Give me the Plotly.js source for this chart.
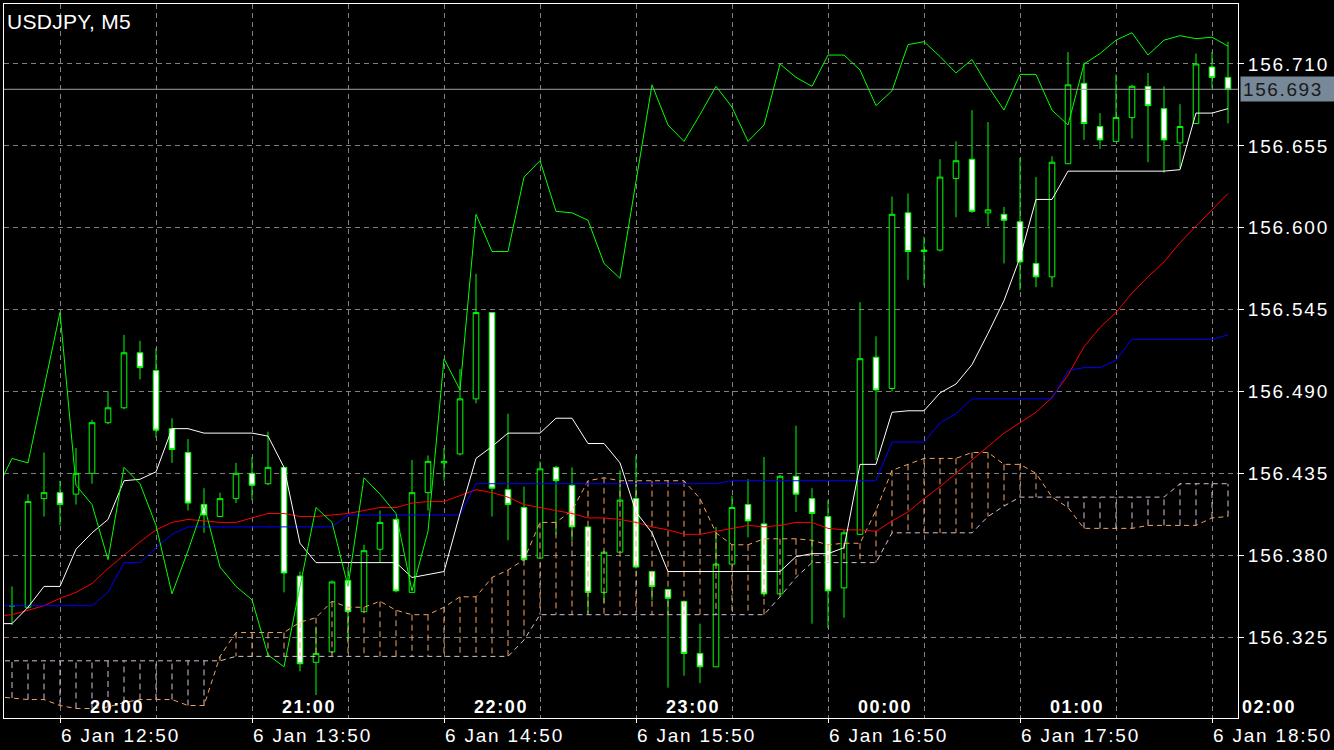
<!DOCTYPE html>
<html><head><meta charset="utf-8">
<script src="https://cdn.plot.ly/plotly-3.0.1.min.js"></script>
<style>
html,body{margin:0;padding:0;background:#000;}
#chart{width:1334px;height:750px;}
.xtick text,.ytick text{letter-spacing:1.8px;}
.annotation-text{letter-spacing:1.6px;}
.gtitle{letter-spacing:0.3px;}
</style></head><body><div id="chart"></div><script>
// ---- data (USDJPY M5, candle index 0 = 6 Jan 12:35) ----
const tickIdx  = [3, 15, 27, 39, 51, 63, 75];
const tickText = ['6 Jan 12:50','6 Jan 13:50','6 Jan 14:50','6 Jan 15:50','6 Jan 16:50','6 Jan 17:50','6 Jan 18:50'];
const halfHourIdx = [9, 21, 33, 45, 57, 69];
const hourIdx  = [5, 17, 29, 41, 53, 65, 77];
const hourText = ['20:00','21:00','22:00','23:00','00:00','01:00','02:00'];

const open = [
156.346,156.345,156.418,156.422,156.421,156.435,156.469,156.479,156.516,156.504,
156.465,156.449,156.414,156.406,156.418,156.435,156.428,156.439,156.366,156.308,
156.315,156.363,156.342,156.384,156.404,156.355,156.422,156.442,156.448,156.485,
156.543,156.424,156.412,156.378,156.439,156.427,156.399,156.355,156.382,156.418,
156.369,156.357,156.349,156.314,156.305,156.374,156.414,156.401,156.354,156.433,
156.418,156.406,156.358,156.394,156.513,156.492,156.610,156.584,156.585,156.633,
156.646,156.610,156.609,156.604,156.576,156.567,156.643,156.697,156.668,156.658,
156.674,156.695,156.680,156.657,156.670,156.708,156.701];
const high = [
156.359,156.421,156.449,156.430,156.452,156.471,156.490,156.528,156.524,156.519,
156.472,156.458,156.425,156.422,156.442,156.446,156.463,156.439,156.369,156.332,
156.363,156.372,156.387,156.410,156.405,156.444,156.447,156.452,156.505,156.569,
156.543,156.475,156.426,156.443,156.440,156.439,156.399,156.383,156.437,156.447,
156.369,156.357,156.349,156.334,156.399,156.420,156.431,156.446,156.434,156.467,
156.425,156.417,156.397,156.550,156.527,156.621,156.623,156.594,156.646,156.658,
156.679,156.671,156.614,156.647,156.634,156.648,156.718,156.711,156.677,156.703,
156.696,156.704,156.695,156.683,156.717,156.718,156.725];
const low = [
156.333,156.344,156.406,156.400,156.414,156.428,156.468,156.478,156.498,156.459,
156.442,156.410,156.395,156.406,156.415,156.417,156.427,156.355,156.302,156.286,
156.314,156.322,156.342,156.375,156.355,156.355,156.410,156.430,156.447,156.482,
156.406,156.390,156.376,156.378,156.394,156.390,156.341,156.348,156.382,156.371,
156.350,156.291,156.299,156.294,156.305,156.374,156.392,156.352,156.352,156.409,
156.334,156.331,156.338,156.394,156.444,156.490,156.565,156.561,156.584,156.607,
156.610,156.601,156.576,156.558,156.560,156.560,156.643,156.659,156.653,156.658,
156.660,156.644,156.637,156.640,156.670,156.694,156.670];
const close = [
156.346,156.416,156.422,156.414,156.435,156.469,156.479,156.516,156.506,156.464,
156.451,156.415,156.407,156.418,156.435,156.427,156.439,156.368,156.307,156.314,
156.362,156.342,156.383,156.402,156.356,156.422,156.443,156.443,156.485,156.543,
156.425,156.414,156.377,156.438,156.430,156.399,156.355,156.382,156.417,156.372,
156.359,156.351,156.314,156.305,156.374,156.412,156.403,156.354,156.433,156.421,
156.408,156.356,156.395,156.512,156.491,156.609,156.584,156.585,156.634,156.645,
156.611,156.612,156.605,156.577,156.567,156.644,156.696,156.670,156.659,156.674,
156.695,156.682,156.659,156.668,156.710,156.701,156.693];

// indicator lines: index -1 .. 76
const greenLine = [156.423,
156.445,156.442,156.492,156.543,156.427,156.414,156.377,156.439,156.428,156.400,
156.354,156.383,156.414,156.372,156.359,156.350,156.313,156.305,156.359,156.412,
156.402,156.359,156.432,156.421,156.408,156.356,156.396,156.512,156.491,156.609,
156.584,156.584,156.634,156.645,156.611,156.610,156.605,156.576,156.566,156.631,
156.696,156.669,156.658,156.676,156.695,156.681,156.658,156.669,156.710,156.701,
156.695,156.716,156.716,156.706,156.682,156.692,156.723,156.725,156.715,156.704,
156.713,156.695,156.679,156.703,156.703,156.679,156.669,156.710,156.717,156.726,
156.731,156.716,156.726,156.729,156.727,156.728,156.722];
const redLine = [156.339,
156.340,156.343,156.346,156.351,156.355,156.361,156.371,156.380,156.389,156.397,
156.402,156.404,156.403,156.402,156.402,156.405,156.408,156.408,156.406,156.406,
156.407,156.408,156.410,156.412,156.412,156.415,156.416,156.416,156.420,156.424,
156.422,156.419,156.414,156.412,156.410,156.408,156.405,156.405,156.404,156.402,
156.399,156.397,156.394,156.394,156.396,156.398,156.400,156.399,156.400,156.402,
156.402,156.398,156.397,156.397,156.396,156.403,156.409,156.418,156.426,156.435,
156.444,156.453,156.462,156.469,156.476,156.486,156.501,156.520,156.533,156.543,
156.556,156.567,156.577,156.590,156.601,156.612,156.623];
const blueLine = [156.346,
156.346,156.346,156.346,156.346,156.346,156.346,156.355,156.375,156.375,156.385,
156.394,156.399,156.399,156.399,156.399,156.399,156.399,156.399,156.399,156.399,
156.399,156.407,156.407,156.407,156.407,156.407,156.407,156.407,156.407,156.428,
156.428,156.428,156.428,156.428,156.428,156.428,156.428,156.428,156.428,156.428,
156.428,156.428,156.428,156.428,156.428,156.430,156.430,156.430,156.430,156.430,
156.430,156.430,156.430,156.430,156.430,156.456,156.456,156.456,156.469,156.475,
156.485,156.485,156.485,156.485,156.485,156.485,156.504,156.506,156.506,156.511,
156.525,156.525,156.525,156.525,156.525,156.525,156.528];
const whiteLine = [156.334,
156.334,156.345,156.359,156.359,156.384,156.395,156.404,156.430,156.431,156.436,
156.465,156.465,156.462,156.462,156.462,156.462,156.460,156.439,156.388,156.375,
156.375,156.375,156.375,156.375,156.375,156.365,156.367,156.369,156.408,156.445,
156.453,156.462,156.462,156.462,156.472,156.472,156.455,156.455,156.442,156.409,
156.395,156.369,156.369,156.369,156.369,156.369,156.369,156.369,156.369,156.379,
156.381,156.381,156.385,156.441,156.441,156.476,156.477,156.477,156.489,156.495,
156.508,156.529,156.551,156.580,156.619,156.619,156.638,156.638,156.638,156.638,
156.638,156.638,156.638,156.639,156.677,156.677,156.680];
const spanA = [156.285,
156.284,156.283,156.283,156.279,156.277,156.277,156.278,156.281,156.283,156.283,
156.283,156.279,156.279,156.312,156.328,156.328,156.328,156.328,156.335,156.338,
156.349,156.345,156.345,156.349,156.343,156.340,156.340,156.345,156.352,156.352,
156.365,156.370,156.377,156.402,156.402,156.410,156.430,156.432,156.430,156.430,
156.430,156.430,156.430,156.418,156.395,156.387,156.387,156.391,156.391,156.391,
156.390,156.387,156.388,156.388,156.410,156.437,156.441,156.445,156.445,156.445,
156.449,156.449,156.441,156.441,156.435,156.419,156.412,156.398,156.398,156.398,
156.398,156.400,156.400,156.400,156.400,156.405,156.406];
const spanB = [156.309,
156.309,156.309,156.309,156.309,156.309,156.309,156.309,156.309,156.309,156.309,
156.309,156.309,156.309,156.309,156.312,156.312,156.312,156.312,156.312,156.312,
156.312,156.312,156.312,156.312,156.312,156.312,156.312,156.312,156.312,156.312,
156.312,156.312,156.323,156.340,156.340,156.340,156.340,156.340,156.340,156.340,
156.340,156.340,156.340,156.340,156.340,156.340,156.340,156.340,156.352,156.365,
156.375,156.375,156.375,156.375,156.375,156.395,156.395,156.395,156.395,156.395,
156.395,156.406,156.413,156.419,156.419,156.419,156.419,156.419,156.419,156.419,
156.419,156.419,156.419,156.428,156.428,156.428,156.428];

// ---- build ----
const candleX = open.map((_, i) => i);
const lineX = greenLine.map((_, i) => i - 1);
const lastPrice = close[close.length - 1];
const FONT = 'Liberation Sans, Arial, Helvetica, sans-serif';
const xr = [-0.5, 76.625];

const hatchUp = {x: [], y: []}, hatchDn = {x: [], y: []};
for (let i = 1; i < lineX.length; i++) {
  const t = spanA[i] >= spanB[i] ? hatchUp : hatchDn;
  t.x.push(lineX[i], lineX[i], null);
  t.y.push(spanA[i], spanB[i], null);
}
const ORANGE = '#f4a460', THISTLE = '#d8bfd8';

const traces = [
  {type: 'candlestick', x: candleX, open, high, low, close,
   increasing: {line: {color: '#00ff00', width: 1}, fillcolor: '#000000'},
   decreasing: {line: {color: '#00ff00', width: 1}, fillcolor: '#ffffff'},
   whiskerwidth: 0, hoverinfo: 'skip'},
  {type: 'scatter', mode: 'lines', x: hatchUp.x, y: hatchUp.y, connectgaps: false,
   line: {color: ORANGE, width: 1, dash: '6px,4px'}, hoverinfo: 'skip'},
  {type: 'scatter', mode: 'lines', x: hatchDn.x, y: hatchDn.y, connectgaps: false,
   line: {color: THISTLE, width: 1, dash: '6px,4px'}, hoverinfo: 'skip'},
  {type: 'scatter', mode: 'lines', x: lineX, y: spanA, line: {color: ORANGE, width: 1, dash: '5px,4px'}, hoverinfo: 'skip'},
  {type: 'scatter', mode: 'lines', x: lineX, y: spanB, line: {color: THISTLE, width: 1, dash: '5px,4px'}, hoverinfo: 'skip'},
  {type: 'scatter', mode: 'lines', x: lineX, y: redLine, line: {color: '#ff0000', width: 1}, hoverinfo: 'skip'},
  {type: 'scatter', mode: 'lines', x: lineX, y: blueLine, line: {color: '#0000ff', width: 1}, hoverinfo: 'skip'},
  {type: 'scatter', mode: 'lines', x: lineX, y: whiteLine, line: {color: '#ffffff', width: 1}, hoverinfo: 'skip'},
  {type: 'scatter', mode: 'lines', x: lineX, y: greenLine, line: {color: '#00ff00', width: 1}, hoverinfo: 'skip'}
];

const annotations = hourIdx.map((k, i) => ({
  xref: 'paper', yref: 'paper',
  x: (k - 0.25 - xr[0]) / (xr[1] - xr[0]), y: 0,
  xanchor: 'left', yanchor: 'bottom', yshift: -1,
  text: hourText[i], showarrow: false,
  font: {family: FONT, size: 18, color: '#ffffff', weight: 'bold'}
}));
annotations.push({
  xref: 'paper', yref: 'y', x: 1, y: lastPrice, xshift: 2,
  xanchor: 'left', yanchor: 'middle', text: lastPrice.toFixed(3), showarrow: false,
  bgcolor: '#778899', width: 90, height: 20, borderpad: 2, align: 'left',
  font: {family: FONT, size: 19, color: '#1a1a1a'}
});

const gridStyle = {showgrid: true, gridcolor: '#808080', gridwidth: 1, griddash: '5px,4px'};
const layout = {
  width: 1334, height: 750,
  paper_bgcolor: '#000000', plot_bgcolor: '#000000',
  margin: {l: 4, r: 96, t: 4, b: 32},
  showlegend: false, boxgap: 0.5,
  title: {text: 'USDJPY, M5', x: 7 / 1334, xanchor: 'left', y: 1 - 22 / 750, yanchor: 'middle',
          font: {family: FONT, size: 21, color: '#ffffff'}},
  xaxis: Object.assign({
    type: 'linear', range: xr, tickmode: 'array', tickvals: tickIdx, ticktext: tickText,
    ticks: 'outside', ticklen: 4, tickcolor: '#ffffff', tickwidth: 1,
    ticklabelposition: 'outside right',
    tickfont: {family: FONT, size: 19, color: '#ffffff'},
    showline: true, linecolor: '#ffffff', linewidth: 1, mirror: true,
    zeroline: false, rangeslider: {visible: false}, fixedrange: true,
    minor: Object.assign({tickmode: 'array', tickvals: halfHourIdx, ticks: ''}, gridStyle)
  }, gridStyle),
  yaxis: Object.assign({
    range: [156.2706, 156.7503], side: 'right', tickmode: 'linear', tick0: 156.325, dtick: 0.055,
    tickformat: '.3f', ticks: 'outside', ticklen: 5, tickcolor: '#ffffff', tickwidth: 1,
    tickfont: {family: FONT, size: 19, color: '#ffffff'},
    showline: true, linecolor: '#ffffff', linewidth: 1, mirror: true, zeroline: false, fixedrange: true
  }, gridStyle),
  shapes: [{type: 'line', xref: 'paper', x0: 0, x1: 1, yref: 'y', y0: lastPrice, y1: lastPrice,
            line: {color: '#a0a0a0', width: 1}, layer: 'above'}],
  annotations
};
Plotly.newPlot('chart', traces, layout, {staticPlot: true, displayModeBar: false});
</script></body></html>
